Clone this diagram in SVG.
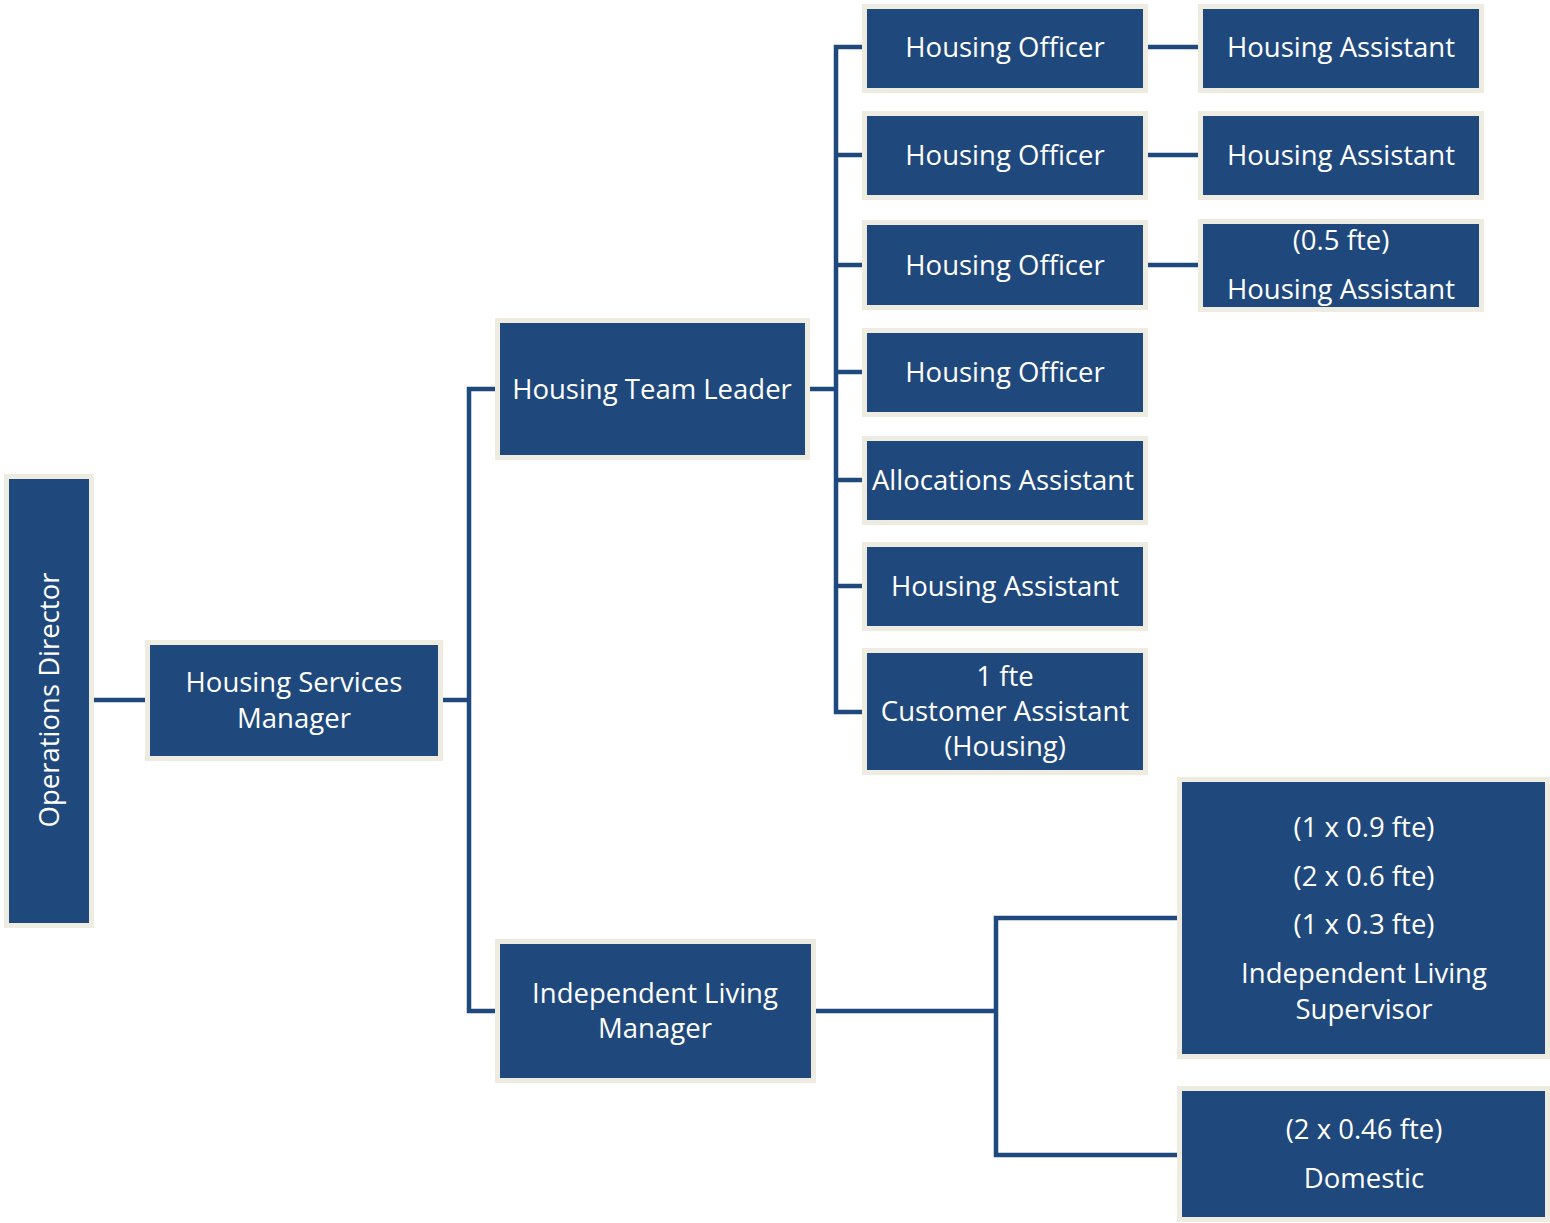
<svg xmlns="http://www.w3.org/2000/svg" width="1550" height="1223" viewBox="0 0 1550 1223">
<style>
.box{fill:#1F497D;stroke:#EEECE1;stroke-width:5}
.t{font-family:"Open Sans","Noto Sans",sans-serif;font-size:27.5px;fill:#FFFFFF;text-anchor:middle;dominant-baseline:central}
.c{fill:none;stroke:#1F497D;stroke-width:4.5;stroke-linejoin:miter}
</style>
<rect width="1550" height="1223" fill="#FFFFFF"/>
<g id="connectors">
<path class="c" d="M94 700H145"/>
<path class="c" d="M443 700H469M495 389H469V1011H495"/>
<path class="c" d="M810 389H836M862 47H836V712H862M836 155H862M836 265H862M836 372H862M836 480H862M836 586H862"/>
<path class="c" d="M1148 47H1198M1148 155H1198M1148 265H1198"/>
<path class="c" d="M816 1011H996M1177 918H996V1155H1177"/>
</g>
<g id="operations-director">
<rect class="box" x="6.5" y="476.5" width="85" height="449"/>
<text class="t" transform="translate(48 700) rotate(-90)" x="0" y="0">Operations Director</text>
</g>
<g id="housing-services-manager">
<rect class="box" x="147.5" y="642.5" width="293" height="116"/>
<text class="t" x="294" y="681">Housing Services</text>
<text class="t" x="294" y="717">Manager</text>
</g>
<g id="housing-team-leader">
<rect class="box" x="497.5" y="320.5" width="310" height="137"/>
<text class="t" x="652" y="388">Housing Team Leader</text>
</g>
<g id="independent-living-manager">
<rect class="box" x="497.5" y="941.5" width="316" height="139"/>
<text class="t" x="655" y="992">Independent Living</text>
<text class="t" x="655" y="1027">Manager</text>
</g>
<g id="housing-officer-1">
<rect class="box" x="864.5" y="6.5" width="281" height="84"/>
<text class="t" x="1005" y="46">Housing Officer</text>
</g>
<g id="housing-officer-2">
<rect class="box" x="864.5" y="113.5" width="281" height="84"/>
<text class="t" x="1005" y="154">Housing Officer</text>
</g>
<g id="housing-officer-3">
<rect class="box" x="864.5" y="222.5" width="281" height="85"/>
<text class="t" x="1005" y="264">Housing Officer</text>
</g>
<g id="housing-officer-4">
<rect class="box" x="864.5" y="330.5" width="281" height="84"/>
<text class="t" x="1005" y="371">Housing Officer</text>
</g>
<g id="allocations-assistant">
<rect class="box" x="864.5" y="438.5" width="281" height="84"/>
<text class="t" x="1003" y="479">Allocations Assistant</text>
</g>
<g id="housing-assistant-col">
<rect class="box" x="864.5" y="544.5" width="281" height="84"/>
<text class="t" x="1005" y="585">Housing Assistant</text>
</g>
<g id="customer-assistant">
<rect class="box" x="864.5" y="650.5" width="281" height="122"/>
<text class="t" x="1005" y="675">1 fte</text>
<text class="t" x="1005" y="710">Customer Assistant</text>
<text class="t" x="1005" y="745">(Housing)</text>
</g>
<g id="housing-assistant-1">
<rect class="box" x="1200.5" y="6.5" width="281" height="84"/>
<text class="t" x="1341" y="46">Housing Assistant</text>
</g>
<g id="housing-assistant-2">
<rect class="box" x="1200.5" y="113.5" width="281" height="84"/>
<text class="t" x="1341" y="154">Housing Assistant</text>
</g>
<g id="housing-assistant-3">
<rect class="box" x="1200.5" y="221.5" width="281" height="88"/>
<text class="t" x="1341" y="239">(0.5 fte)</text>
<text class="t" x="1341" y="288">Housing Assistant</text>
</g>
<g id="independent-living-supervisor">
<rect class="box" x="1179.5" y="779.5" width="368" height="277"/>
<text class="t" x="1364" y="826">(1 x 0.9 fte)</text>
<text class="t" x="1364" y="875">(2 x 0.6 fte)</text>
<text class="t" x="1364" y="923">(1 x 0.3 fte)</text>
<text class="t" x="1364" y="972">Independent Living</text>
<text class="t" x="1364" y="1008">Supervisor</text>
</g>
<g id="domestic">
<rect class="box" x="1179.5" y="1088.5" width="368" height="131"/>
<text class="t" x="1364" y="1128">(2 x 0.46 fte)</text>
<text class="t" x="1364" y="1177">Domestic</text>
</g>
</svg>
